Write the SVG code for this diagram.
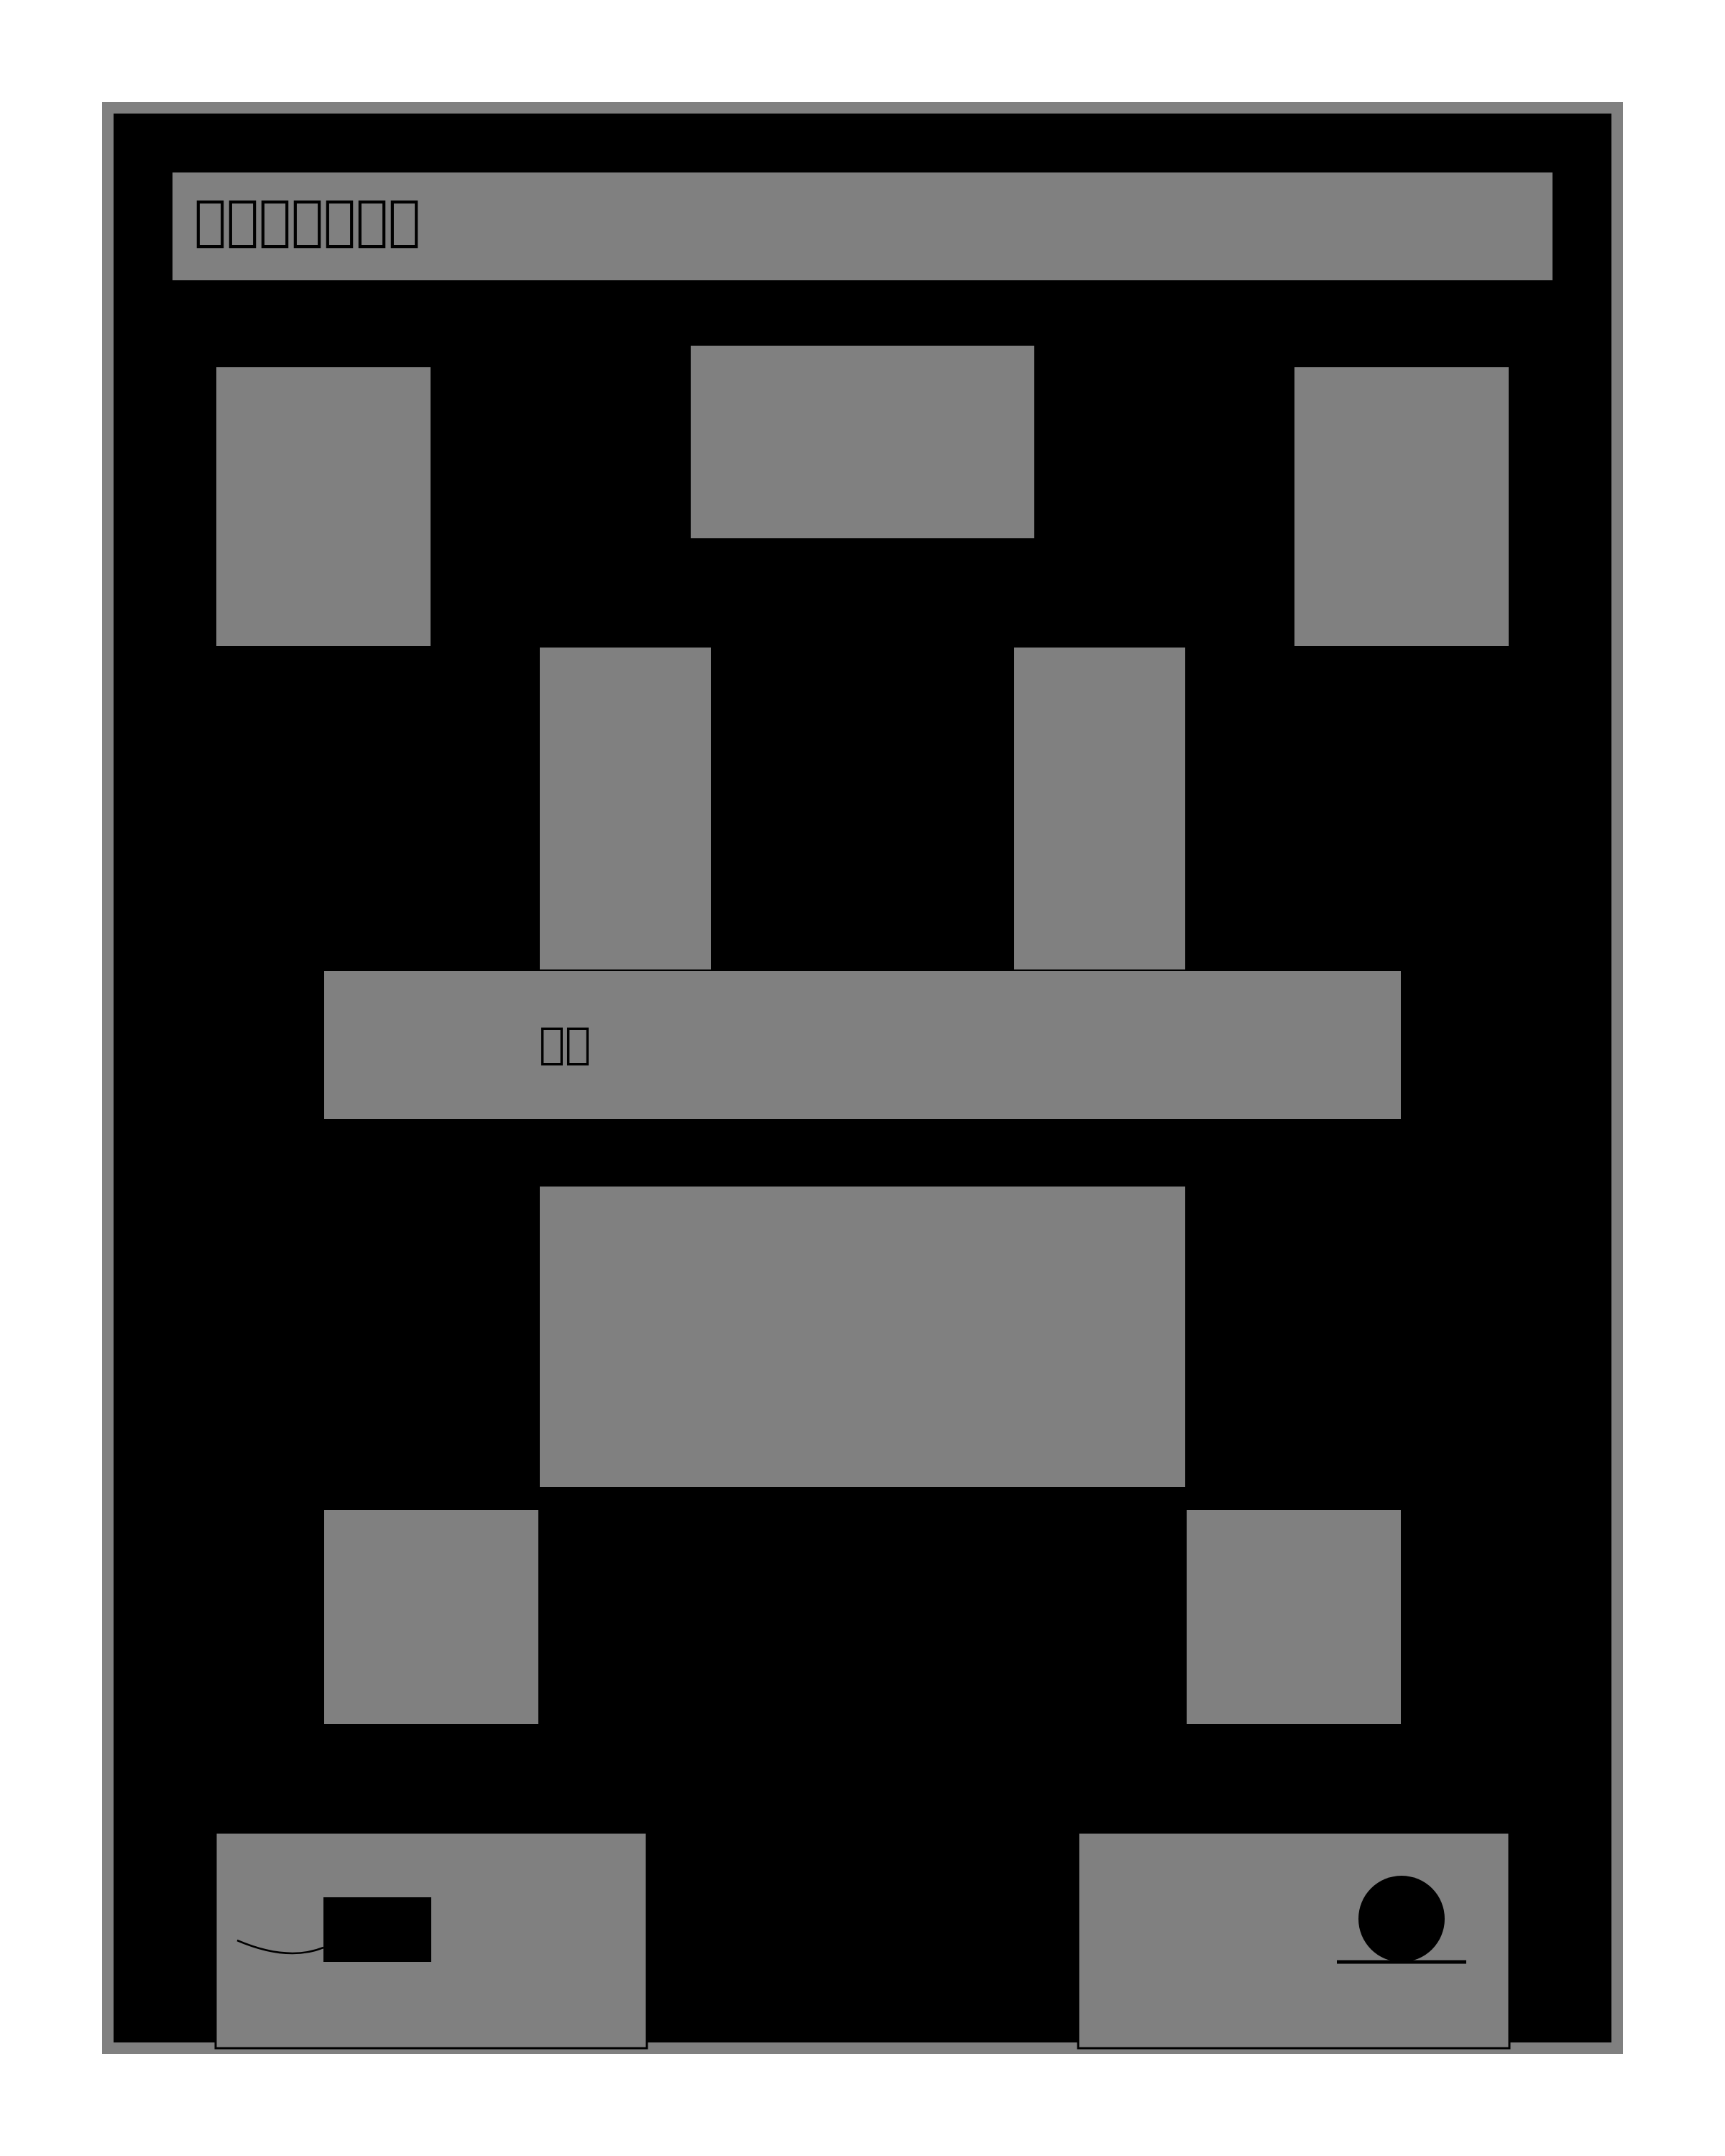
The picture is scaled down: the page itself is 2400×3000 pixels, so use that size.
<svg xmlns="http://www.w3.org/2000/svg" width="2400" height="3000" viewBox="0 0 2400 3000">
<style>
.bg{fill:#ffffff}
.frame{fill:#000000;stroke:#808080;stroke-width:16}
.part{fill:#808080;stroke:#000000;stroke-width:2}
.box{fill:#808080;stroke:#000000;stroke-width:3}
.ink{fill:#000000}
.wire{fill:none;stroke:#000000;stroke-width:2.5}
.title{font-family:"DejaVu Sans",sans-serif;font-size:75px;fill:#000000}
.label{font-family:"DejaVu Sans",sans-serif;font-size:60px;fill:#000000}
</style>
<rect class="bg" x="0" y="0" width="2400" height="3000"/>
<g id="frame"><rect class="frame" x="150" y="150" width="2100" height="2700"/></g>
<g id="title-bar">
<rect class="part" x="240" y="240" width="1920" height="150" style="stroke:none"/>
<text class="title" x="270" y="332">&#xE000;&#xE001;&#xE002;&#xE003;&#xE004;&#xE005;&#xE006;</text>
</g>
<g id="top-left"><rect class="part" x="300" y="510" width="300" height="390"/></g>
<g id="top-center"><rect class="part" x="960" y="480" width="480" height="270"/></g>
<g id="top-right"><rect class="part" x="1800" y="510" width="300" height="390"/></g>
<g id="tall-left"><rect class="part" x="750" y="900" width="240" height="450"/></g>
<g id="tall-right"><rect class="part" x="1410" y="900" width="240" height="450"/></g>
<g id="bar-left-end"><rect class="part" x="450" y="1350" width="150" height="210"/></g>
<g id="bar-right-end"><rect class="part" x="1800" y="1350" width="150" height="210"/></g>
<g id="bar">
<rect class="part" x="450" y="1350" width="1500" height="208"/>
<text class="label" x="750" y="1472">&#xE007;&#xE008;</text>
</g>
<g id="middle-block"><rect class="part" x="750" y="1650" width="900" height="420"/></g>
<g id="square-left"><rect class="part" x="450" y="2100" width="300" height="300"/></g>
<g id="square-right"><rect class="part" x="1650" y="2100" width="300" height="300"/></g>
<g id="box-left">
<rect class="box" x="300" y="2550" width="600" height="300"/>
<rect class="ink" x="450" y="2640" width="150" height="90"/>
</g>
<g id="box-right">
<rect class="box" x="1500" y="2550" width="600" height="300"/>
<circle class="ink" cx="1950" cy="2670" r="60"/>
<line x1="1860" y1="2730" x2="2040" y2="2730" stroke="#000000" stroke-width="5"/>
</g>
<g id="connectors">
<path class="wire" d="M330 2700 Q400 2730 450 2710"/>
</g>
</svg>
